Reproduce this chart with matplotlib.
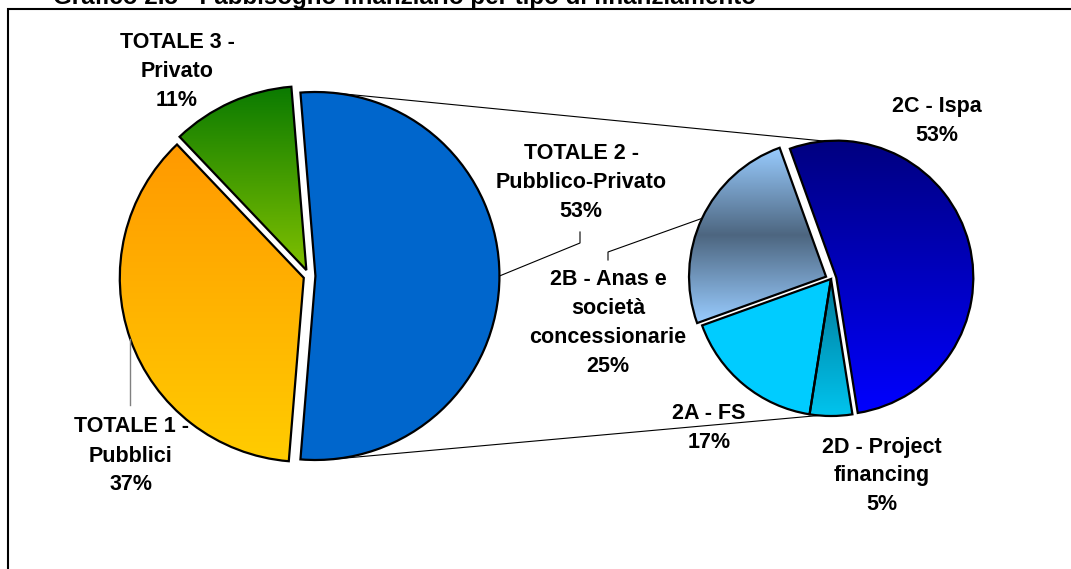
import numpy as np
import matplotlib
matplotlib.use("Agg")
import matplotlib.pyplot as plt
from matplotlib.colors import LinearSegmentedColormap
from matplotlib.patches import Rectangle

# --- DATA ---
main_labels = ["TOTALE 1 -\nPubblici", "TOTALE 2 -\nPubblico-Privato", "TOTALE 3 -\nPrivato"]
main_values = [36.6, 52.6, 10.8]
sub_labels = ["2A - FS", "2B - Anas e\nsocietà\nconcessionarie", "2C - Ispa", "2D - Project\nfinancing"]
sub_values = [17, 25, 53, 5]

TITLE = "Grafico 2.5 - Fabbisogno finanziario per tipo di finanziamento"

# --- STYLE / LAYOUT (pixel coords, y measured from top) ---
W, H = 1071, 569
FONT = "Liberation Sans"
FS = 15.5

main_center = (309, 276)
main_r = 184
sub_center = (831, 279)
sub_r = 137

# fill for each slice: one colour = solid, list = vertical gradient top -> bottom
main_fills = [["#FF9900", "#FFCC00"], "#0066CC", ["#0A7A00", "#80C000"]]
sub_fills = ["#00CCFF", ["#99CCFF", "#4D6680", "#99CCFF"], ["#000080", "#0000FF"],
             ["#007A99", "#00C4EE"]]
# explode as a fraction of the radius
main_explode = [0.03, 0.035, 0.035]
sub_explode = [0, 0.04, 0.04, 0]

main_label_pos = [(131, 456), (581, 182), (177, 71)]
sub_label_pos = [(709, 428), (608, 323), (937, 121), (882, 476)]


def Y(y):
    return H - y


def fill_wedge(ax, wedge, fill):
    if isinstance(fill, str):
        wedge.set_facecolor(fill)
        return
    wedge.set_facecolor("none")
    ext = wedge.get_path().get_extents()
    cmap = LinearSegmentedColormap.from_list("g", fill)
    grad = np.linspace(0, 1, 256).reshape(-1, 1)
    im = ax.imshow(grad, extent=[ext.x0, ext.x1, ext.y0, ext.y1], origin="upper",
                   cmap=cmap, aspect="auto", zorder=0.5, interpolation="bilinear")
    im.set_clip_path(wedge)


def edge_point(wedge, ang=None):
    if ang is None:
        ang = (wedge.theta1 + wedge.theta2) / 2
    a = np.deg2rad(ang)
    cx, cy = wedge.center
    return cx + wedge.r * np.cos(a), cy + wedge.r * np.sin(a)


fig = plt.figure(figsize=(W / 100, H / 100), dpi=100)
ax = fig.add_axes([0, 0, 1, 1])

wp = dict(edgecolor="black", linewidth=1.6)

# main pie: TOTALE 2 centred on the right side
tot = sum(main_values)
f2 = main_values[1] / tot
f3 = main_values[2] / tot
main_start = 180 * f2 + 360 * f3
main_wedges, _ = ax.pie(main_values, center=(main_center[0], Y(main_center[1])),
                        radius=main_r, startangle=main_start, counterclock=True,
                        explode=[e * main_r for e in main_explode],
                        wedgeprops=wp, frame=True)

# secondary pie: 2D centred at the bottom, clockwise
stot = sum(sub_values)
sub_start = -90 - 180 * sub_values[3] / stot
sub_wedges, _ = ax.pie(sub_values, center=(sub_center[0], Y(sub_center[1])),
                       radius=sub_r, startangle=sub_start, counterclock=False,
                       explode=[e * sub_r for e in sub_explode],
                       wedgeprops=wp, frame=True)

for w, f in zip(main_wedges, main_fills):
    fill_wedge(ax, w, f)
for w, f in zip(sub_wedges, sub_fills):
    fill_wedge(ax, w, f)

# connector lines between the pies
blue = main_wedges[1]
cx2, cy2 = sub_center[0], Y(sub_center[1])
p1 = edge_point(blue, 84)
q1 = (cx2 + sub_r * np.cos(np.deg2rad(80)), cy2 + sub_r * np.sin(np.deg2rad(80)))
p2 = edge_point(blue, -85)
q2 = (cx2 + sub_r * np.cos(np.deg2rad(-95)), cy2 + sub_r * np.sin(np.deg2rad(-95)))
ax.plot([p1[0], q1[0]], [p1[1], q1[1]], color="black", lw=0.8, zorder=0.3)
ax.plot([p2[0], q2[0]], [p2[1], q2[1]], color="black", lw=0.8, zorder=0.3)

# labels
txt = dict(ha="center", va="center", fontsize=FS, fontweight="bold",
           family=FONT, linespacing=1.5)
for lab, v, (x, y) in zip(main_labels, main_values, main_label_pos):
    ax.text(x, Y(y), f"{lab}\n{round(100 * v / tot)}%", **txt)
for lab, v, (x, y) in zip(sub_labels, sub_values, sub_label_pos):
    ax.text(x, Y(y), f"{lab}\n{round(100 * v / stot)}%", **txt)

# leader lines
e = edge_point(main_wedges[0])
ax.plot([e[0], e[0]], [e[1], Y(405)], color="#808080", lw=1.0)
e = edge_point(main_wedges[1])
ax.plot([e[0], 580, 580], [e[1], Y(243), Y(232)], color="black", lw=0.8)
e = edge_point(sub_wedges[1])
ax.plot([e[0], 608, 608], [e[1], Y(252), Y(260)], color="black", lw=0.8)

# frame and (cropped, as in the source) title
ax.add_patch(Rectangle((8, -20), W + 20, Y(9) + 20, fill=False,
                       edgecolor="black", lw=1.5, clip_on=False))
ax.text(53, Y(4), TITLE, ha="left", va="baseline", fontsize=17.4,
        fontweight="bold", family=FONT)

ax.set_xlim(0, W)
ax.set_ylim(0, H)
ax.set_aspect("equal")
ax.axis("off")

fig.savefig("out.png", dpi=100)
